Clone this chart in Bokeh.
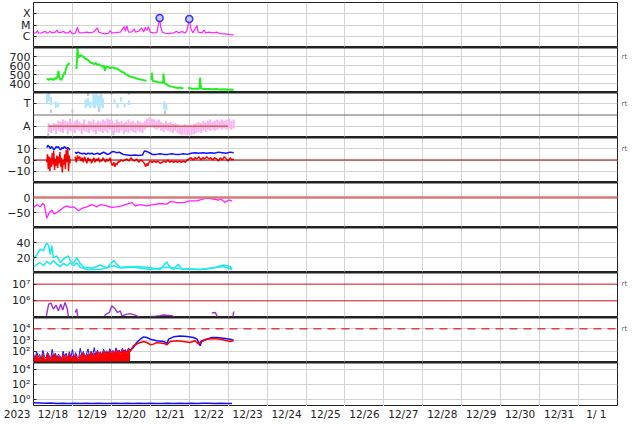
from bokeh.plotting import figure
from bokeh.layouts import column
from bokeh.models import (Range1d, FixedTicker, Span, BasicTickFormatter, LinearAxis, LogAxis)
from bokeh.embed import file_html
from bokeh.resources import INLINE

nan = float("nan")

# ---------------- data (x = days since 2023-12-18 00:00) ----------------
day_ticks = [0.5, 1.5, 2.5, 3.5, 4.5, 5.5, 6.5, 7.5, 8.5, 9.5, 10.5, 11.5, 12.5, 13.5, 14.5]
day_labels = ["12/18", "12/19", "12/20", "12/21", "12/22", "12/23", "12/24", "12/25",
              "12/26", "12/27", "12/28", "12/29", "12/30", "12/31", " 1/ 1"]
day_bounds = [0, 1, 2, 3, 4, 5, 6, 7, 8, 9, 10, 11, 12, 13, 14, 15]
year_label = "2023"

# panel 1: X-ray flux (W/m2)
xray_t = [0.00, 0.07, 0.10, 0.13, 0.21, 0.30, 0.34, 0.43, 0.47, 0.56,
          0.60, 0.64, 0.73, 0.77, 0.81, 0.90, 0.94, 0.99, 1.07, 1.13,
          1.17, 1.29, 1.37, 1.46, 1.54, 1.64, 1.68, 1.76, 1.84, 1.93,
          1.97, 2.01, 2.10, 2.23, 2.33, 2.36, 2.40, 2.44, 2.53, 2.59,
          2.62, 2.70, 2.78, 2.83, 2.87, 2.91, 2.95, 3.00, 3.08, 3.17,
          3.24, 3.27, 3.31, 3.38, 3.47, 3.60, 3.68, 3.72, 3.81, 3.90,
          3.94, 4.00, 4.04, 4.09, 4.20, 4.23, 4.33, 4.38, 4.42, 4.50,
          4.62, 4.71, 4.79, 4.92, 5.05, 5.14]
xray_v = [1.85e-6, 2.1e-6, 3.2e-6, 1.85e-6, 2.0e-6, 2.8e-6, 1.85e-6, 2.6e-6, 2.0e-6, 2.3e-6,
          3.6e-6, 2.1e-6, 2.3e-6, 2.8e-6, 2.0e-6, 2.0e-6, 3.2e-6, 1.7e-6, 1.85e-6, 6.2e-6,
          2.0e-6, 2.1e-6, 2.3e-6, 2.0e-6, 2.4e-6, 5.5e-6, 2.3e-6, 1.85e-6, 1.6e-6, 1.85e-6,
          3.2e-6, 2.0e-6, 2.1e-6, 2.3e-6, 7.2e-6, 2.8e-6, 8.2e-6, 2.3e-6, 2.4e-6, 4.5e-6,
          2.3e-6, 2.8e-6, 5.5e-6, 2.4e-6, 6.2e-6, 3.2e-6, 7.2e-6, 2.3e-6, 2.0e-6, 2.1e-6,
          4.1e-5, 6.2e-6, 2.3e-6, 1.85e-6, 1.7e-6, 2.0e-6, 2.8e-6, 2.0e-6, 2.6e-6, 2.0e-6,
          3.2e-6, 3.4e-5, 5.5e-6, 2.0e-6, 8.8e-6, 2.3e-6, 2.0e-6, 3.6e-6, 2.0e-6, 2.3e-6,
          2.0e-6, 2.3e-6, 1.7e-6, 1.6e-6, 1.4e-6, 1.3e-6]
flare_t = [3.24, 4.00]
flare_v = [4.1e-5, 3.4e-5]
xray_ticks = [1e-6, 1e-5, 1e-4]
xray_labels = ["C", "M", "X"]

# panel 2: solar wind speed (km/s)
speed_t = [0.34, 0.37, 0.40, 0.43, 0.46, 0.49, 0.52, 0.55, 0.58, 0.61, 0.64, 0.66, 0.69, 0.72, 0.75,
           0.78, 0.80, 0.83, 0.86, 0.89, 0.92, 1.00,
           1.10, 1.11, 1.13, 1.15, 1.18, 1.21, 1.24, 1.28, 1.32, 1.36, 1.40, 1.44, 1.48, 1.52, 1.56,
           1.60, 1.64, 1.68, 1.72, 1.76, 1.80, 1.84, 1.86, 1.90, 1.94, 1.98, 2.02, 2.06, 2.10, 2.14,
           2.18, 2.22, 2.26, 2.30, 2.34, 2.38, 2.42, 2.46, 2.50, 2.55, 2.60, 2.65, 2.70, 2.75, 2.80,
           2.85, 2.90, 2.96,
           3.03, 3.04, 3.06, 3.10, 3.15, 3.20, 3.25, 3.30, 3.33, 3.34, 3.36, 3.40, 3.45, 3.50, 3.55,
           3.60, 3.65, 3.70, 3.75, 3.80, 3.85, 3.91,
           3.97, 4.00, 4.05, 4.10, 4.15, 4.20, 4.26, 4.28, 4.30, 4.35, 4.40, 4.50, 4.60, 4.70, 4.80,
           4.90, 5.00, 5.10, 5.14]
speed_v = [445, 450, 440, 455, 445, 450, 440, 460, 450, 470, 540, 470, 445, 440, 470,
           520, 500, 560, 600, 610, 630, nan,
           560, 610, 800, 690, 700, 715, 705, 700, 680, 670, 660, 640, 630, 625, 615,
           630, 605, 615, 600, 590, 600, 540, 590, 585, 580, 570, 580, 575, 565, 570,
           555, 545, 530, 525, 515, 500, 495, 480, 475, 470, 465, 455, 450, 445, 440,
           435, 430, nan,
           440, 520, 430, 425, 420, 415, 410, 415, 405, 510, 405, 395, 380, 370, 365,
           360, 355, 350, 355, 350, 345, nan,
           345, 350, 345, 340, 345, 340, 345, 465, 345, 340, 338, 340, 335, 338, 332,
           335, 330, 332, 328]
speed_ticks = [400, 500, 600, 700]

# panel 3: T / A classification (A = 1, T = 3)
pink_t = [0.39, 0.45, 0.52, 0.58, 0.64, 0.70, 0.76, 0.82, 0.88, 0.94, 1.00, 1.06, 1.12, 1.18, 1.24,
          1.30, 1.36, 1.42, 1.48, 1.54, 1.60, 1.66, 1.72, 1.78, 1.84, 1.90, 1.96, 2.02, 2.08, 2.14,
          2.20, 2.26, 2.32, 2.38, 2.44, 2.50, 2.56, 2.62, 2.68, 2.74, 2.80, 2.86, 2.92, 2.98, 3.04,
          3.10, 3.16, 3.22, 3.28, 3.34, 3.40, 3.46, 3.52, 3.58, 3.64, 3.70, 3.76, 3.82, 3.88, 3.94,
          4.00, 4.06, 4.12, 4.18, 4.24, 4.30, 4.36, 4.42, 4.48, 4.54, 4.60, 4.66, 4.72, 4.78, 4.84,
          4.90, 4.96, 5.02, 5.08, 5.14]
pink_lo = [0.5, 0.4, 0.6, 0.3, 0.6, 0.5, 0.4, 0.7, 0.3, 0.6, 0.5, 0.4, 0.7, 0.6, 0.3,
           0.6, 0.5, 0.4, 0.7, 0.5, 0.3, 0.6, 0.5, 0.4, 0.6, 0.4, 0.7, 0.6, 0.4, 0.5,
           0.4, 0.6, 0.3, 0.5, 0.4, 0.6, 0.5, 0.4, 0.6, 0.5, 0.4, 0.7, 0.9, 1.0, 0.9,
           0.8, 0.7, 0.8, 0.6, 0.5, 0.7, 0.6, 0.5, 0.4, 0.6, 0.4, 0.3, 0.2, 0.3, 0.2,
           0.3, 0.2, 0.3, 0.4, 0.5, 0.4, 0.6, 0.5, 0.7, 0.6, 0.7, 0.6, 0.7, 0.8, 0.7,
           0.8, 0.7, 0.8, 0.7, 0.8]
pink_hi = [1.3, 1.1, 1.3, 1.2, 1.5, 1.4, 1.6, 1.5, 1.4, 1.7, 1.3, 1.5, 1.6, 1.4, 1.3,
           1.6, 1.2, 1.5, 1.4, 1.6, 1.3, 1.5, 1.4, 1.6, 1.5, 1.7, 1.6, 1.5, 1.3, 1.6,
           1.4, 1.5, 1.3, 1.4, 1.6, 1.4, 1.5, 1.3, 1.5, 1.4, 1.3, 1.5, 1.7, 1.8, 1.7,
           1.6, 1.5, 1.6, 1.4, 1.3, 1.5, 1.3, 1.4, 1.2, 1.3, 1.2, 1.1, 1.0, 1.2, 1.1,
           1.0, 1.1, 1.2, 1.3, 1.4, 1.3, 1.5, 1.4, 1.5, 1.6, 1.4, 1.5, 1.6, 1.5, 1.6,
           1.5, 1.6, 1.7, 1.5, 1.6]
blue_t = [0.35, 0.40, 0.45, 0.57, 0.63, 1.34, 1.40, 1.46, 1.54, 1.58, 1.62, 1.66, 1.70, 1.74,
          1.78, 2.08, 2.16, 2.25, 2.34, 2.45, 3.36, 3.41]
blue_lo = [3.0, 3.2, 2.9, 2.6, 2.7, 2.6, 2.8, 2.6, 2.7, 2.6, 2.9, 2.7, 2.5, 2.8, 2.6, 3.0, 2.6,
           3.2, 2.7, 2.9, 2.5, 2.4]
blue_hi = [3.9, 3.8, 3.6, 3.2, 3.1, 3.4, 3.5, 3.2, 3.9, 3.8, 3.9, 3.7, 3.8, 3.9, 3.5, 3.4, 3.0,
           3.6, 3.1, 3.3, 3.2, 3.0]
gray_t = [0.38, 0.40, 0.45, 1.00, 1.40, 1.68, 1.92, 2.00, 2.05, 2.45, 3.38]
gray_lo = [0.1, 3.8, 2.2, 2.2, 3.7, 2.3, 0.9, 3.8, 0.2, 3.8, 2.1]
gray_hi = [0.4, 3.95, 2.5, 2.5, 3.95, 2.7, 1.4, 3.95, 0.6, 3.95, 2.4]
aline_t = [0.38, 5.00]
aline_v = [1, 1]
ta_ticks = [1, 3]
ta_labels = ["A", "T"]

# panel 4: IMF Bt (blue) and Bz (red), nT
bt_t = [0.34, 0.37, 0.40, 0.43, 0.46, 0.49, 0.52, 0.55, 0.58, 0.61, 0.64, 0.67, 0.70, 0.73, 0.76,
        0.79, 0.82, 0.85, 0.88, 0.91, 0.94, 1.00,
        1.07, 1.10, 1.15, 1.20, 1.25, 1.30, 1.35, 1.40, 1.45, 1.50, 1.55, 1.60, 1.65, 1.70, 1.75,
        1.80, 1.85, 1.90, 1.95, 2.00, 2.05, 2.10, 2.15, 2.20, 2.25, 2.30, 2.40, 2.50, 2.60, 2.70,
        2.80, 2.85, 2.90, 2.95, 3.00, 3.05, 3.15, 3.25, 3.35, 3.45, 3.55, 3.65, 3.75, 3.85, 3.95,
        4.05, 4.15, 4.25, 4.35, 4.45, 4.55, 4.65, 4.75, 4.85, 4.95, 5.05, 5.14]
bt_v = [11, 13, 12, 10, 12, 11, 9, 10, 12, 11, 12, 10, 9, 11, 10,
        12, 11, 10, 11, 10, 9, nan,
        7, 6, 7, 6, 5.5, 6, 5, 6, 5.5, 6, 5, 5.5, 6, 5, 6,
        7, 6, 5, 5.5, 7, 7.5, 7, 6.5, 7, 6, 5, 4.5, 4, 4.5, 4,
        4.5, 8, 7.5, 7, 6, 5, 5, 5.5, 5, 5, 5.5, 5, 5, 5.5, 5,
        6, 6.5, 6, 6.5, 6, 6.5, 6, 7, 6.5, 6, 7, 6.5]
bz_t = [0.34, 0.36, 0.38, 0.40, 0.42, 0.44, 0.46, 0.48, 0.50, 0.52, 0.54, 0.56, 0.58, 0.60, 0.62,
        0.64, 0.66, 0.68, 0.70, 0.72, 0.74, 0.76, 0.78, 0.80, 0.82, 0.84, 0.86, 0.88, 0.90, 0.92,
        0.94, 1.00,
        1.07, 1.10, 1.13, 1.16, 1.19, 1.22, 1.25, 1.28, 1.31, 1.34, 1.37, 1.40, 1.43, 1.46, 1.49,
        1.52, 1.55, 1.58, 1.61, 1.64, 1.67, 1.70, 1.73, 1.76, 1.79, 1.82, 1.85, 1.88, 1.91, 1.94,
        1.97, 2.00, 2.03, 2.06, 2.09, 2.12, 2.15, 2.18, 2.21, 2.24,
        2.30, 2.40, 2.45, 2.50, 2.55, 2.60, 2.65, 2.70, 2.75, 2.80, 2.85, 2.88, 2.91, 2.94, 2.97,
        3.00, 3.05, 3.10, 3.15, 3.20, 3.25, 3.30, 3.35, 3.40, 3.45, 3.50, 3.55, 3.60, 3.65, 3.70,
        3.75, 3.80, 3.85, 3.90, 3.95, 4.00, 4.05, 4.10, 4.15, 4.20, 4.25, 4.30, 4.35, 4.40, 4.45,
        4.50, 4.55, 4.60, 4.65, 4.70, 4.75, 4.80, 4.85, 4.90, 4.95, 5.00, 5.05, 5.10, 5.14]
bz_v = [-2, 5, -8, 3, -10, 2, -6, 6, -4, 8, -9, 1, -5, 4, -7,
        3, -3, 7, -6, 2, -11, 0, -4, 5, -8, 9, -2, 10, -10, 4,
        -3, nan,
        3, -2, 4, 1, 3, -1, 2, -2, 3, 0, -3, 2, -1, 1, -3,
        0, 2, -2, 1, -1, 2, -2, 0, -1, 2, 0, -2, 1, -1, 0,
        2, -3, -5, -2, -6, -3, -4, -1, -2, 0,
        -1, 1, -1, 2, 0, -1, 1, -2, 0, -1, -3, -6, -3, -5, -2,
        -1, -2, -1, -2, -1, -3, -2, -1, -2, 0, -2, -1, -2, -1, -2,
        -1, -2, -1, -2, 0, 1, 2, 0, 2, 1, 3, 0, 2, 1, 3,
        1, 2, 0, 2, 1, -1, 2, 0, 3, 1, -1, 2, 0, 1]
imf_ticks = [-10, 0, 10]

# panel 5: Dst (nT)
dst_t = [0.00, 0.09, 0.17, 0.24, 0.28, 0.34, 0.41, 0.47, 0.53, 0.60,
         0.69, 0.77, 0.86, 0.94, 1.03, 1.16, 1.24, 1.37, 1.50, 1.63,
         1.71, 1.88, 2.01, 2.14, 2.27, 2.40, 2.53, 2.61, 2.74, 2.91,
         3.08, 3.25, 3.42, 3.53, 3.68, 3.85, 4.02, 4.20, 4.32, 4.45,
         4.62, 4.75, 4.81, 4.92, 5.01, 5.10]
dst_v = [-33, -24, -31, -20, -25, -69, -50, -42, -55, -50,
         -42, -33, -28, -33, -31, -44, -36, -31, -24, -31,
         -24, -28, -33, -31, -28, -22, -17, -28, -24, -28,
         -24, -20, -22, -13, -17, -17, -11, -11, -6, -2,
         -5, -9, -5, -17, -8, -11]
dst_ticks = [-50, 0]

# panel 6: two cyan series
cy1_t = [0.00, 0.09, 0.17, 0.26, 0.30, 0.34, 0.39, 0.43, 0.47, 0.51,
         0.60, 0.69, 0.77, 0.86, 0.90, 0.94, 1.03, 1.11, 1.20, 1.29,
         1.54, 1.71, 1.88, 2.06, 2.14, 2.23, 2.57, 2.91, 3.25, 3.42,
         3.51, 3.60, 3.72, 3.81, 3.94, 4.28, 4.62, 4.88, 5.05, 5.10]
cy1_v = [18, 24, 31, 29, 36, 39, 36, 24, 36, 20,
         22, 13, 18, 21, 22, 16, 12, 20, 12, 7,
         6, 10, 6, 16, 11, 7, 8, 7, 4, 14,
         7, 4, 11, 4, 5, 4, 6, 10, 8, 4]
cy2_t = [0.00, 0.09, 0.17, 0.26, 0.34, 0.43, 0.51, 0.60, 0.69, 0.77,
         0.86, 0.94, 1.03, 1.11, 1.20, 1.37, 1.71, 2.06, 2.23, 2.57,
         3.00, 3.42, 3.77, 4.28, 4.88, 5.10]
cy2_v = [7, 11, 13, 9, 15, 11, 16, 11, 8, 12,
         9, 13, 9, 13, 7, 4, 4, 9, 6, 7,
         4, 7, 5, 4, 8, 4]
cy_ticks = [20, 40]

# panel 7: electron flux
el_t = [0.33, 0.39, 0.45, 0.51, 0.58, 0.64, 0.70, 0.75, 0.81, 0.87,
        0.90, 0.98, 1.07, 1.11, 1.14, 1.40, 1.82, 1.87, 1.95, 2.01,
        2.06, 2.10, 2.16, 2.23, 2.27, 2.40, 2.48, 2.61, 2.74, 2.85,
        2.99, 3.13, 3.25, 3.34, 3.55, 3.68, 3.90, 4.18, 4.22, 4.40,
        4.58, 4.67, 4.73, 4.90, 5.12, 5.14]
el_v = [1.26e5, 6.3e5, 7.2e5, 3.2e5, 5.5e5, 2.5e5, 6.3e5, 2.8e5, 7.9e5, 3.2e5,
        9e4, nan, 2e5, 3.2e5, 9e4, nan, 1.26e5, 1.6e5, 2e5, 5e5,
        4e5, 3.2e5, 2e5, 2.5e5, 1.26e5, 1.6e5, 1.7e5, 1.4e5, 1e5, nan,
        1.1e5, 1.2e5, 1.3e5, 1.4e5, 1.3e5, 9e4, nan, 9e4, 1.1e5, nan,
        1.9e5, 2e5, 1e5, nan, 9e4, 2.3e5]
el_ticks = [1e6, 1e7]
el_labels = ["10\u2076", "10\u2077"]

# panel 8: proton flux, blue and red channels
pr_t = [0.00, 0.04, 0.08, 0.12, 0.16, 0.20, 0.24, 0.28, 0.32, 0.36, 0.40, 0.44, 0.48, 0.52, 0.56,
        0.60, 0.64, 0.68, 0.72, 0.76, 0.80, 0.84, 0.88, 0.92, 0.96, 1.00, 1.04, 1.08, 1.12, 1.16,
        1.20, 1.24, 1.28, 1.32, 1.36, 1.40, 1.44, 1.48, 1.52, 1.56, 1.60, 1.64, 1.68, 1.72, 1.76,
        1.80, 1.84, 1.88, 1.92, 1.96, 2.00, 2.04, 2.08, 2.12, 2.16, 2.20, 2.24, 2.28, 2.32, 2.36,
        2.40, 2.44, 2.48]
prb_v = [60, 20, 90, 30, 50, 18, 120, 35, 25, 80, 45, 20, 150, 30, 70,
         22, 55, 40, 18, 100, 35, 65, 20, 90, 28, 140, 20, 75, 35, 25,
         180, 40, 95, 30, 55, 160, 35, 100, 45, 210, 40, 120, 60, 90, 40,
         150, 70, 110, 55, 170, 80, 120, 60, 200, 90, 130, 70, 180, 100, 140,
         80, 200, 120]
prr_v = [40, 15, 60, 20, 35, 12, 55, 25, 18, 70, 30, 14, 50, 22, 65,
         16, 40, 28, 13, 58, 24, 45, 15, 72, 20, 38, 14, 60, 26, 18,
         50, 30, 85, 22, 40, 60, 25, 90, 35, 70, 28, 110, 45, 80, 30,
         120, 55, 95, 40, 130, 60, 100, 45, 140, 70, 110, 50, 150, 80, 120,
         60, 160, 90]
prb_t2 = [2.48, 2.57, 2.65, 2.74, 2.83, 2.91, 3.00, 3.17, 3.34, 3.43, 3.47, 3.60, 3.77, 3.94, 4.11,
          4.20, 4.24, 4.28, 4.32, 4.45, 4.58, 4.71, 4.88, 5.05, 5.14]
prb_v2 = [120, 220, 600, 1180, 1900, 1650, 1180, 850, 740, 500, 1180, 1900, 2300, 2000, 1650,
          1180, 600, 310, 740, 1180, 1650, 1650, 1450, 1180, 970]
prr_t2 = [2.48, 2.57, 2.65, 2.74, 2.83, 2.91, 3.00, 3.08, 3.17, 3.34, 3.43, 3.51, 3.68, 3.85, 4.02,
          4.15, 4.24, 4.32, 4.45, 4.62, 4.80, 4.97, 5.05, 5.14]
prr_v2 = [90, 310, 430, 600, 740, 600, 380, 430, 600, 500, 380, 740, 850, 740, 600,
          850, 430, 850, 1180, 1350, 1180, 850, 740, 850]
pr_ticks = [1e2, 1e3, 1e4]
pr_labels = ["10\u00b2", "10\u00b3", "10\u2074"]

# panel 9: low flux channel
lo_t = [0.0, 0.15, 0.3, 0.45, 0.6, 0.75, 0.9, 1.05, 1.2, 1.35, 1.5, 1.65, 1.8, 1.95, 2.1, 2.25,
        2.4, 2.55, 2.7, 2.85, 3.0, 3.15, 3.3, 3.45, 3.6, 3.75, 3.9, 4.05, 4.2, 4.35, 4.5, 4.65,
        4.8, 4.95, 5.1]
lo_v = [0.33, 0.30, 0.27, 0.29, 0.26, 0.28, 0.25, 0.27, 0.26, 0.28, 0.25, 0.27, 0.26, 0.25,
        0.27, 0.26, 0.28, 0.25, 0.27, 0.26, 0.28, 0.26, 0.25, 0.27, 0.26, 0.28, 0.25, 0.27,
        0.26, 0.28, 0.27, 0.25, 0.27, 0.26, 0.25]
lo_ticks = [1e0, 1e2, 1e4]
lo_labels = ["10\u2070", "10\u00b2", "10\u2074"]

# ---------------- styling / layout ----------------
FONT = "DejaVu Sans"
GRID = "#d3d3d3"
DARK = "#222222"
LB, FW, RB = 33, 584, 13
W = LB + FW + RB
XMIN, XMAX = 0, 15
xr = Range1d(XMIN, XMAX)


def style_axis(ax, size="11px", color=DARK):
    ax.axis_line_color = None
    ax.minor_tick_line_color = None
    ax.major_label_text_font = FONT
    ax.major_label_text_font_size = size
    ax.major_label_text_color = color


def panel(frame_h, yr, ytype, yticks, ylabels=None, top=0, rt_at=None):
    p = figure(width=W, height=frame_h + top, x_range=xr, y_range=yr, y_axis_type=ytype,
               output_backend="svg", toolbar_location=None, x_axis_location=None,
               min_border_left=LB, min_border_right=RB, min_border_top=top,
               min_border_bottom=0)
    p.outline_line_color = DARK
    p.outline_line_width = 1
    p.background_fill_color = "white"
    p.border_fill_color = "white"
    ax = p.yaxis[0]
    ax.ticker = FixedTicker(ticks=list(yticks))
    if ytype == "log":
        ax.formatter = BasicTickFormatter()
    if ylabels is not None:
        ax.major_label_overrides = {t: s for t, s in zip(yticks, ylabels)}
    style_axis(ax)
    ax.major_tick_in = 3
    ax.major_tick_out = 0
    ax.major_tick_line_color = DARK
    ax.major_label_standoff = 3
    p.ygrid.ticker = FixedTicker(ticks=list(yticks))
    p.ygrid.grid_line_color = GRID
    p.xgrid.ticker = FixedTicker(ticks=day_bounds)
    p.xgrid.grid_line_color = GRID
    if rt_at is not None:
        ra = (LogAxis if ytype == "log" else LinearAxis)(
            ticker=FixedTicker(ticks=[rt_at]), formatter=BasicTickFormatter())
        ra.major_label_overrides = {rt_at: "rt"}
        style_axis(ra, size="7px", color="#666666")
        ra.major_tick_line_color = None
        ra.major_tick_in = 0
        ra.major_tick_out = 0
        ra.major_label_standoff = 4
        p.add_layout(ra, "right")
    return p


def seps(p, yr, first=False, last=False):
    if not first:
        p.add_layout(Span(location=yr.end, dimension="width", line_color=DARK, line_width=2))
    if not last:
        p.add_layout(Span(location=yr.start, dimension="width", line_color=DARK, line_width=2))


heights = [45, 45, 45, 45, 45, 45, 45, 45, 44]
figs = []

# 1 X-ray
yr1 = Range1d(1e-7, 1e-3)
p1 = panel(heights[0], yr1, "log", xray_ticks, xray_labels, top=2)
p1.line(xray_t, xray_v, line_color="#ff22ff", line_width=1.2)
p1.scatter(flare_t, flare_v, size=7, marker="circle", line_color="#3333ee", fill_color="#c8c8ff",
           line_width=1.5)
seps(p1, yr1, first=True)
figs.append(p1)

# 2 speed
yr2 = Range1d(300, 800)
p2 = panel(heights[1], yr2, "linear", speed_ticks, rt_at=700)
p2.line(speed_t, speed_v, line_color="#22ee22", line_width=2)
seps(p2, yr2)
figs.append(p2)

# 3 T/A
yr3 = Range1d(0, 4)
p3 = panel(heights[2], yr3, "linear", ta_ticks, ta_labels, rt_at=3)
p3.add_layout(Span(location=2, dimension="width", line_color="#666666", line_width=1))
p3.segment(x0=gray_t, y0=gray_lo, x1=gray_t, y1=gray_hi, line_color="#c8c8c8", line_width=2.2)
p3.segment(x0=blue_t, y0=blue_lo, x1=blue_t, y1=blue_hi, line_color="#b2e6f8", line_width=2.2)
p3.segment(x0=pink_t, y0=pink_lo, x1=pink_t, y1=pink_hi, line_color="#f8b6f0", line_width=2.2)
p3.line(aline_t, aline_v, line_color="#e05a5a", line_width=1.5)
seps(p3, yr3)
figs.append(p3)

# 4 IMF
yr4 = Range1d(-20, 20)
p4 = panel(heights[3], yr4, "linear", imf_ticks, rt_at=10)
p4.add_layout(Span(location=0, dimension="width", line_color="#aa0000", line_width=1.2))
p4.line(bt_t, bt_v, line_color="#1010ff", line_width=1.5)
p4.line(bz_t, bz_v, line_color="#ff0000", line_width=1.5)
seps(p4, yr4)
figs.append(p4)

# 5 Dst
yr5 = Range1d(-100, 50)
p5 = panel(heights[4], yr5, "linear", dst_ticks)
p5.add_layout(Span(location=0, dimension="width", line_color="#d87878", line_width=2.5))
p5.line(dst_t, dst_v, line_color="#ff22ff", line_width=1.3)
seps(p5, yr5)
figs.append(p5)

# 6 cyan
yr6 = Range1d(0, 60)
p6 = panel(heights[5], yr6, "linear", cy_ticks)
p6.line(cy2_t, cy2_v, line_color="#22e8e8", line_width=1.5)
p6.line(cy1_t, cy1_v, line_color="#22e8e8", line_width=1.5)
seps(p6, yr6)
figs.append(p6)

# 7 electrons
yr7 = Range1d(1e5, 5e7)
p7 = panel(heights[6], yr7, "log", el_ticks, el_labels, rt_at=1e7)
p7.ygrid.grid_line_color = None
p7.add_layout(Span(location=1e7, dimension="width", line_color="#cc1111", line_width=1))
p7.add_layout(Span(location=1e6, dimension="width", line_color="#cc1111", line_width=1))
p7.line(el_t, el_v, line_color="#9933cc", line_width=1.4)
seps(p7, yr7)
figs.append(p7)

# 8 protons
yr8 = Range1d(10, 1e5)
p8 = panel(heights[7], yr8, "log", pr_ticks, pr_labels, rt_at=1e4)
p8.add_layout(Span(location=1e4, dimension="width", line_color="#e04040", line_width=1.3,
                   line_dash="8 6"))
p8.line(pr_t, prb_v, line_color="#1010ff", line_width=1)
p8.line(prb_t2, prb_v2, line_color="#1010ff", line_width=1.5)
p8.varea(x=pr_t, y1=[yr8.start] * len(pr_t), y2=prr_v, fill_color="#ff0000")
p8.line(pr_t, prr_v, line_color="#ff0000", line_width=1)
p8.line(prr_t2, prr_v2, line_color="#ff0000", line_width=1.5)
seps(p8, yr8)
figs.append(p8)

# 9 low channel
yr9 = Range1d(0.1, 1e5)
p9 = panel(heights[8], yr9, "log", lo_ticks, lo_labels)
p9.line(lo_t, lo_v, line_color="#1010ff", line_width=1.5)
seps(p9, yr9, last=True)
figs.append(p9)

# time axis strip: day labels on the x axis, year on the left axis
strip = figure(width=W, height=16, x_range=xr, y_range=Range1d(0, 1),
               output_backend="svg", toolbar_location=None,
               min_border_left=LB, min_border_right=RB, min_border_top=0, min_border_bottom=0)
strip.outline_line_color = None
strip.grid.grid_line_color = None
strip.border_fill_color = "white"
xa = strip.xaxis[0]
xa.ticker = FixedTicker(ticks=day_ticks)
xa.major_label_overrides = {t: s for t, s in zip(day_ticks, day_labels)}
style_axis(xa, size="10.5px")
xa.major_tick_line_color = None
xa.major_tick_in = 0
xa.major_tick_out = 0
xa.major_label_standoff = 0
ya = strip.yaxis[0]
ya.ticker = FixedTicker(ticks=[0])
ya.major_label_overrides = {0: year_label}
style_axis(ya, size="10.5px")
ya.major_tick_line_color = None
ya.major_tick_in = 0
ya.major_tick_out = 0
ya.major_label_standoff = 3
ya.major_label_text_baseline = "top"
figs.append(strip)

layout = column(*figs, spacing=0)
open("out.html", "w").write(file_html(layout, INLINE))
